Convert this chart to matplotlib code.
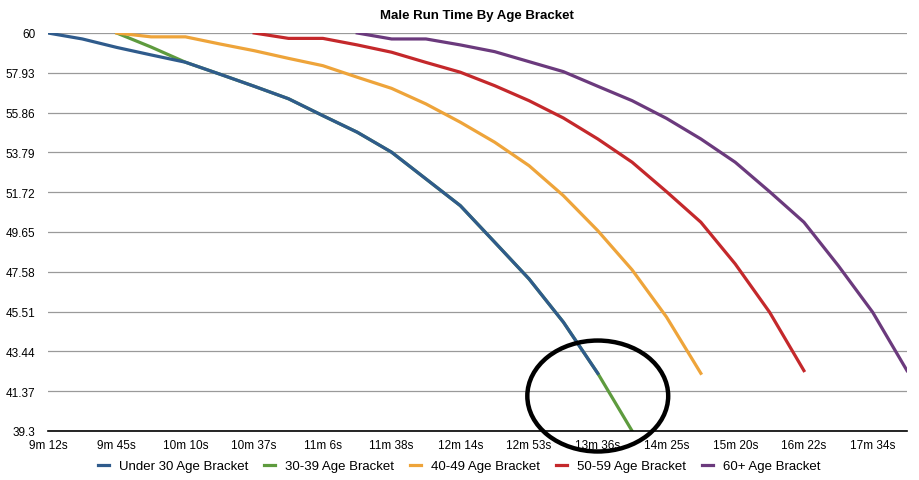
import numpy as np
import matplotlib
matplotlib.use("Agg")
import matplotlib.pyplot as plt
from matplotlib.patches import Ellipse

plt.rcParams['font.family'] = ['Liberation Sans', 'DejaVu Sans']

# ---- data ----
n_categories = 26
tick_labels = ["9m 12s", "9m 45s", "10m 10s", "10m 37s", "11m 6s", "11m 38s",
               "12m 14s", "12m 53s", "13m 36s", "14m 25s", "15m 20s", "16m 22s",
               "17m 34s"]
yticks = [39.3, 41.37, 43.44, 45.51, 47.58, 49.65, 51.72, 53.79, 55.86, 57.93, 60]

series_names = ["Under 30 Age Bracket", "30-39 Age Bracket", "40-49 Age Bracket",
                "50-59 Age Bracket", "60+ Age Bracket"]
series_start = [0, 2, 2, 6, 9]
under30 = [60, 59.69, 59.25, 58.86, 58.48, 57.86, 57.23, 56.58, 55.70, 54.84, 53.80,
           52.41, 51.02, 49.12, 47.21, 44.96, 42.30]
age30_39 = [60, 59.27, 58.48, 57.86, 57.23, 56.58, 55.70, 54.84, 53.80, 52.41, 51.02,
            49.12, 47.21, 44.96, 42.30, 39.3]
age40_49 = [60, 59.80, 59.80, 59.43, 59.08, 58.68, 58.30, 57.70, 57.12, 56.31, 55.36,
            54.32, 53.10, 51.54, 49.72, 47.68, 45.23, 42.30]
age50_59 = [60, 59.72, 59.72, 59.38, 59.00, 58.47, 57.96, 57.26, 56.48, 55.58, 54.49,
            53.28, 51.75, 50.16, 47.99, 45.48, 42.44]
age60p = [60, 59.69, 59.69, 59.38, 59.03, 58.51, 57.99, 57.23, 56.48, 55.56, 54.49,
          53.28, 51.75, 50.16, 47.90, 45.48, 42.44]
series_values = [under30, age30_39, age40_49, age50_59, age60p]
colors = ["#2f5b8c", "#5e9b3e", "#eea43a", "#c4282b", "#6b3a7d"]
zorders = [4, 3, 3, 3, 3]

fig = plt.figure(figsize=(9.19, 4.81), dpi=100)
ax = fig.add_axes([48/919, 1-432/481, (907-48)/919, (432-34)/481])

for name, start, vals, c, z in zip(series_names, series_start, series_values, colors, zorders):
    x = np.arange(start, start + len(vals))
    ax.plot(x, vals, color=c, lw=2.3, label=name, zorder=z, solid_joinstyle='miter')

ax.set_xlim(0, n_categories - 1)
ax.set_ylim(39.3, 60)
ax.set_yticks(yticks)
ax.set_yticklabels([f"{v:g}" for v in yticks])
ax.set_xticks(np.arange(0, n_categories, 2)[:len(tick_labels)])
ax.set_xticklabels(tick_labels)
ax.tick_params(axis='both', length=0, labelsize=8.5, colors='black')
ax.tick_params(axis='y', pad=9.2)
ax.tick_params(axis='x', pad=6)
ax.grid(axis='y', color='#9a9a9a', lw=0.9, zorder=1)
ax.set_axisbelow(True)
for s in ['top', 'right', 'left']:
    ax.spines[s].set_visible(False)
ax.spines['bottom'].set_color('black')
ax.spines['bottom'].set_linewidth(1.2)
ax.spines['bottom'].set_zorder(5)

fig.text(477/919, 1-16/481, "Male Run Time By Age Bracket", ha='center', va='center',
         fontsize=9.5, fontweight='bold')

# highlight circle
ell = Ellipse((16.0, 41.12), width=4.1, height=5.77, fill=False, edgecolor='black',
              lw=3.2, clip_on=False, zorder=6)
ax.add_patch(ell)

fig.legend(loc='center', bbox_to_anchor=(459/919, 1-467/481), ncol=5, frameon=False,
           fontsize=9.5, handlelength=0.85, handletextpad=0.75, columnspacing=1.2)

fig.savefig("out.png", dpi=100)
